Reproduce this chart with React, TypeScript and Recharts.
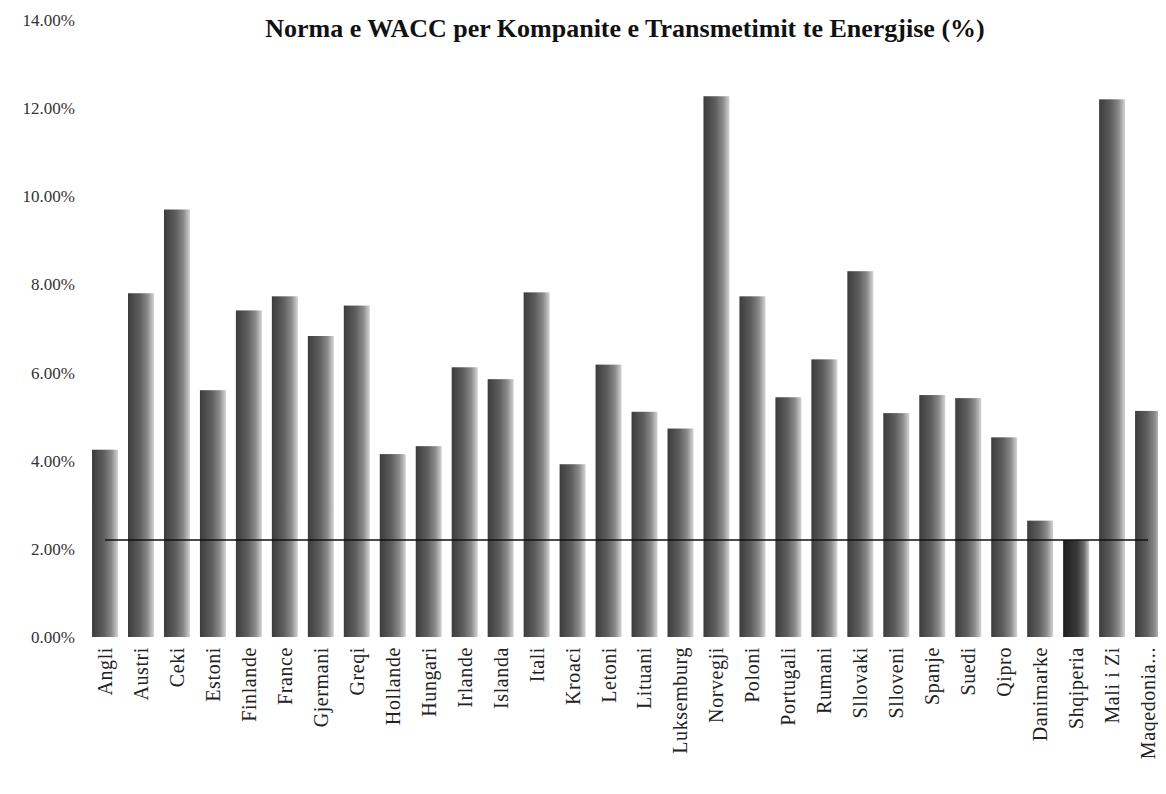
import React from "react";
import { ComposedChart, Bar, Line, XAxis, YAxis } from "recharts";

const countries = [
  "Angli", "Austri", "Ceki", "Estoni", "Finlande", "France", "Gjermani",
  "Greqi", "Hollande", "Hungari", "Irlande", "Islanda", "Itali", "Kroaci",
  "Letoni", "Lituani", "Luksemburg", "Norvegji", "Poloni", "Portugali",
  "Rumani", "Sllovaki", "Slloveni", "Spanje", "Suedi", "Qipro",
  "Danimarke", "Shqiperia", "Mali i Zi", "Maqedonia...",
];

// WACC per country (%)
const wacc = [
  4.25, 7.8, 9.7, 5.6, 7.41, 7.73, 6.83, 7.52, 4.15, 4.33, 6.12, 5.85,
  7.82, 3.92, 6.18, 5.11, 4.73, 12.27, 7.73, 5.44, 6.3, 8.3, 5.08, 5.49,
  5.42, 4.53, 2.64, 2.2, 12.2, 5.13,
];

// reference line (Shqiperia level)
const refLine = [
  2.2, 2.2, 2.2, 2.2, 2.2, 2.2, 2.2, 2.2, 2.2, 2.2, 2.2, 2.2, 2.2, 2.2, 2.2,
  2.2, 2.2, 2.2, 2.2, 2.2, 2.2, 2.2, 2.2, 2.2, 2.2, 2.2, 2.2, 2.2, 2.2, 2.2,
];

const yTicks = [0, 2, 4, 6, 8, 10, 12, 14];

const data = countries.map((name, i) => ({
  name,
  wacc: wacc[i],
  ref: refLine[i],
}));

const serif = "'Liberation Serif', 'DejaVu Serif', serif";

function renderCountryTick(props: any) {
  const x = props.x + 7;
  const y = props.y + 2;
  return (
    <text
      x={x}
      y={y}
      transform={`rotate(-90, ${x}, ${y})`}
      textAnchor="end"
      fontFamily={serif}
      fontSize={20}
      letterSpacing={0.6}
      fill="#222"
    >
      {props.payload.value}
    </text>
  );
}

// plain rect: the default bar shape throws a ref error in this setup
function renderBar(props: any) {
  const name = props.payload ? props.payload.name : props.name;
  const dark = name === "Shqiperia";
  return (
    <rect
      x={props.x}
      y={props.y}
      width={props.width}
      height={props.height}
      fill={dark ? "url(#barGradDark)" : "url(#barGrad)"}
    />
  );
}

export default function App() {
  return (
    <div
      style={{ position: "relative", width: 1158, height: 778, overflow: "hidden" }}
    >
      <svg width={0} height={0} style={{ position: "absolute" }}>
        <defs>
          <linearGradient id="barGrad" x1="0" y1="0" x2="1" y2="0">
            <stop offset="0%" stopColor="#3c3c3c" />
            <stop offset="45%" stopColor="#5e5e5e" />
            <stop offset="75%" stopColor="#8a8a8a" />
            <stop offset="100%" stopColor="#d4d4d4" />
          </linearGradient>
          <linearGradient id="barGradDark" x1="0" y1="0" x2="1" y2="0">
            <stop offset="0%" stopColor="#1e1e1e" />
            <stop offset="55%" stopColor="#3a3a3a" />
            <stop offset="80%" stopColor="#6a6a6a" />
            <stop offset="100%" stopColor="#c8c8c8" />
          </linearGradient>
        </defs>
      </svg>
      <ComposedChart
        width={1158}
        height={778}
        data={data}
        margin={{ top: 12, right: 0, bottom: 8, left: 0 }}
        barCategoryGap="14%"
      >
        <XAxis
          dataKey="name"
          interval={0}
          height={141}
          axisLine={false}
          tickLine={false}
          tick={renderCountryTick}
        />
        <YAxis
          width={79}
          domain={[0, 14]}
          ticks={yTicks}
          axisLine={false}
          tickLine={false}
          tickMargin={6}
          tickFormatter={(v: number) => `${v.toFixed(2)}%`}
          tick={{ fontFamily: serif, fontSize: 17, fill: "#333" }}
        />
        <Bar
          dataKey="wacc"
          fill="url(#barGrad)"
          shape={renderBar}
          isAnimationActive={false}
        />
        <Line
          type="linear"
          dataKey="ref"
          stroke="#111"
          strokeWidth={1.5}
          dot={false}
          isAnimationActive={false}
        />
      </ComposedChart>
      <div
        style={{
          position: "absolute",
          left: 76,
          width: 1082,
          top: 6,
          textAlign: "center",
          fontFamily: serif,
          fontWeight: "bold",
          fontSize: 26,
          color: "#111",
          whiteSpace: "nowrap",
        }}
      >
        Norma e WACC per Kompanite e Transmetimit te Energjise (%)
      </div>
    </div>
  );
}
